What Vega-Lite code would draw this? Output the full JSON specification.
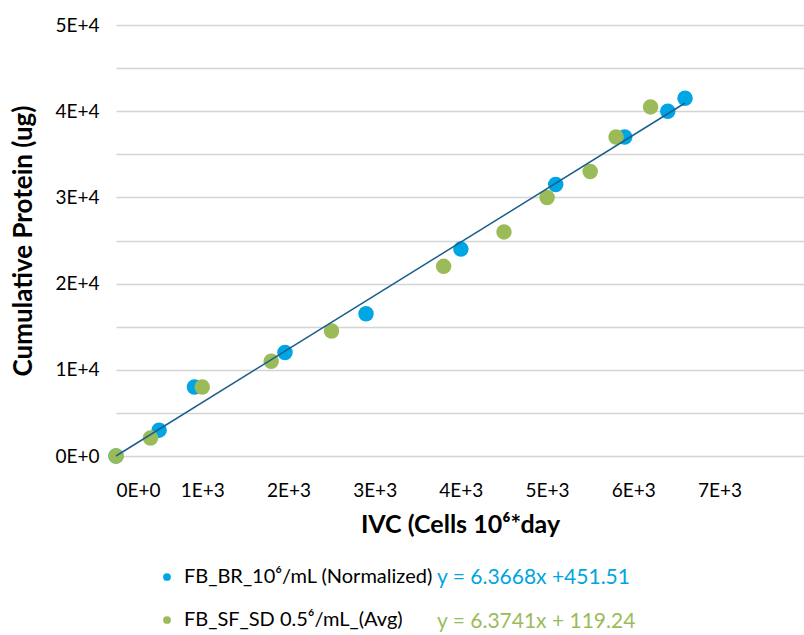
{
  "$schema": "https://vega.github.io/schema/vega-lite/v6.json",
  "autosize": "none",
  "padding": {"left": 116, "top": 25, "right": 0, "bottom": 179},
  "width": 688,
  "height": 431,
  "background": "white",
  "config": {"view": {"stroke": null}, "font": "Lato"},
  "datasets": {
    "pts": [
      {"ivc": 0, "protein": 0, "series": "FB_BR_10⁶/mL (Normalized)", "eq": "y = 6.3668x +451.51"},
      {"ivc": 500, "protein": 3000, "series": "FB_BR_10⁶/mL (Normalized)", "eq": "y = 6.3668x +451.51"},
      {"ivc": 910, "protein": 8000, "series": "FB_BR_10⁶/mL (Normalized)", "eq": "y = 6.3668x +451.51"},
      {"ivc": 1960, "protein": 12000, "series": "FB_BR_10⁶/mL (Normalized)", "eq": "y = 6.3668x +451.51"},
      {"ivc": 2900, "protein": 16500, "series": "FB_BR_10⁶/mL (Normalized)", "eq": "y = 6.3668x +451.51"},
      {"ivc": 4000, "protein": 24000, "series": "FB_BR_10⁶/mL (Normalized)", "eq": "y = 6.3668x +451.51"},
      {"ivc": 5100, "protein": 31500, "series": "FB_BR_10⁶/mL (Normalized)", "eq": "y = 6.3668x +451.51"},
      {"ivc": 5900, "protein": 37000, "series": "FB_BR_10⁶/mL (Normalized)", "eq": "y = 6.3668x +451.51"},
      {"ivc": 6400, "protein": 40000, "series": "FB_BR_10⁶/mL (Normalized)", "eq": "y = 6.3668x +451.51"},
      {"ivc": 6600, "protein": 41500, "series": "FB_BR_10⁶/mL (Normalized)", "eq": "y = 6.3668x +451.51"},
      {"ivc": 0, "protein": 0, "series": "FB_SF_SD 0.5⁶/mL_(Avg)", "eq": "y = 6.3741x + 119.24"},
      {"ivc": 400, "protein": 2100, "series": "FB_SF_SD 0.5⁶/mL_(Avg)", "eq": "y = 6.3741x + 119.24"},
      {"ivc": 1000, "protein": 8000, "series": "FB_SF_SD 0.5⁶/mL_(Avg)", "eq": "y = 6.3741x + 119.24"},
      {"ivc": 1800, "protein": 11000, "series": "FB_SF_SD 0.5⁶/mL_(Avg)", "eq": "y = 6.3741x + 119.24"},
      {"ivc": 2500, "protein": 14500, "series": "FB_SF_SD 0.5⁶/mL_(Avg)", "eq": "y = 6.3741x + 119.24"},
      {"ivc": 3800, "protein": 22000, "series": "FB_SF_SD 0.5⁶/mL_(Avg)", "eq": "y = 6.3741x + 119.24"},
      {"ivc": 4500, "protein": 26000, "series": "FB_SF_SD 0.5⁶/mL_(Avg)", "eq": "y = 6.3741x + 119.24"},
      {"ivc": 5000, "protein": 30000, "series": "FB_SF_SD 0.5⁶/mL_(Avg)", "eq": "y = 6.3741x + 119.24"},
      {"ivc": 5500, "protein": 33000, "series": "FB_SF_SD 0.5⁶/mL_(Avg)", "eq": "y = 6.3741x + 119.24"},
      {"ivc": 5800, "protein": 37000, "series": "FB_SF_SD 0.5⁶/mL_(Avg)", "eq": "y = 6.3741x + 119.24"},
      {"ivc": 6200, "protein": 40500, "series": "FB_SF_SD 0.5⁶/mL_(Avg)", "eq": "y = 6.3741x + 119.24"}
    ],
    "trend": [
      {"ivc": 0, "protein": 0},
      {"ivc": 6600, "protein": 40950}
    ]
  },
  "layer": [
    {
      "data": {"name": "pts"},
      "mark": {"type": "point", "filled": true, "opacity": 1, "size": 240},
      "encoding": {
        "x": {
          "field": "ivc", "type": "quantitative",
          "scale": {"domain": [0, 7980], "nice": false},
          "axis": {
            "values": [0, 1000, 2000, 3000, 4000, 5000, 6000, 7000],
            "labelExpr": "datum.value == 0 ? '0E+0' : (datum.value / 1000) + 'E+3'",
            "grid": false, "ticks": false, "domain": false,
            "labelFontSize": 19, "labelColor": "#000000", "labelPadding": 25,
            "title": "IVC (Cells 10⁶*day", "titleFontSize": 25, "titleFontWeight": "bold",
            "titleColor": "#000000", "titlePadding": 12
          }
        },
        "y": {
          "field": "protein", "type": "quantitative",
          "scale": {"domain": [0, 50000], "nice": false},
          "axis": {
            "values": [0, 5000, 10000, 15000, 20000, 25000, 30000, 35000, 40000, 45000, 50000],
            "labelExpr": "datum.value == 0 ? '0E+0' : (datum.value % 10000 == 0 ? (datum.value / 10000) + 'E+4' : '')",
            "grid": true, "gridColor": "#d4d4d4", "gridWidth": 1.5,
            "ticks": false, "domain": false,
            "labelFontSize": 19, "labelColor": "#000000", "labelPadding": 17,
            "title": "Cumulative Protein (ug)", "titleFontSize": 26, "titleFontWeight": "bold",
            "titleColor": "#000000", "titlePadding": 18
          }
        },
        "color": {
          "field": "series", "type": "nominal",
          "scale": {"domain": ["FB_BR_10⁶/mL (Normalized)", "FB_SF_SD 0.5⁶/mL_(Avg)"], "range": ["#00a5e3", "#9bbb59"]},
          "legend": {
            "orient": "none", "legendX": 41, "legendY": 542, "direction": "vertical",
            "title": null, "symbolType": "circle", "symbolSize": 60,
            "labelFontSize": 20, "labelColor": "#000000", "labelOffset": 7,
            "rowPadding": 23, "labelLimit": 400
          }
        },
        "shape": {
          "field": "eq", "type": "nominal",
          "scale": {"domain": ["y = 6.3668x +451.51", "y = 6.3741x + 119.24"], "range": ["circle", "circle"]},
          "legend": {
            "orient": "none", "legendX": 300, "legendY": 542, "direction": "vertical",
            "title": null, "symbolOpacity": 0, "symbolSize": 0, "symbolStrokeWidth": 0,
            "labelOffset": 0, "labelFontSize": 21, "rowPadding": 22, "labelLimit": 400,
            "labelColor": {"expr": "datum.value == 'y = 6.3668x +451.51' ? '#00a5e3' : '#9bbb59'"}
          }
        }
      }
    },
    {
      "data": {"name": "trend"},
      "mark": {"type": "line", "color": "#1b5e8e", "strokeWidth": 1.5},
      "encoding": {
        "x": {"field": "ivc", "type": "quantitative"},
        "y": {"field": "protein", "type": "quantitative"}
      }
    }
  ]
}
